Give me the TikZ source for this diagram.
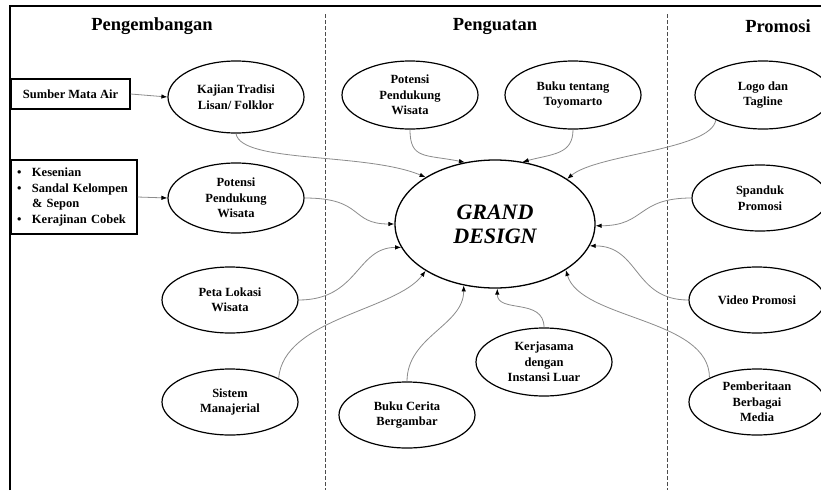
\documentclass[tikz,border=0pt]{standalone}
\usepackage{fontspec}
\setmainfont{Liberation Serif}
\usetikzlibrary{shapes.geometric,arrows.meta}
\begin{document}
\begin{tikzpicture}[x=1pt,y=-1pt,
  el/.style={draw=black,line width=1.2pt,ellipse,minimum width=136pt,minimum height=68pt,inner sep=0pt,align=center,
    font=\fontsize{12.5}{15.5}\selectfont\bfseries},
  bx/.style={draw=black,line width=1.3pt,rectangle,inner sep=0pt,font=\fontsize{12.5}{15.5}\selectfont\bfseries},
  head/.style={font=\fontsize{18.5}{22}\selectfont\bfseries},
  con/.style={draw=black!45,line width=0.8pt,-{Latex[color=black,length=6pt,width=4.5pt]}},
  divider/.style={draw=black!70,line width=0.9pt,dash pattern=on 4pt off 2pt}]
\clip (0,0) rectangle (821,490);
\fill[white] (0,0) rectangle (821,490);
% frame
\draw[line width=2pt] (10,490) -- (10,6) -- (830,6);
% dividers
\coordinate (d1t) at (325,14); \coordinate (d1b) at (325,490);
\coordinate (d2t) at (667,14); \coordinate (d2b) at (667,490);
\draw[divider] (d1t) -- (d1b);
\draw[divider] (d2t) -- (d2b);
% headings
\node[head] (h1) at (152,26) {Pengembangan};
\node[head] (h2) at (495,26) {Penguatan};
\node[head] (h3) at (778,26) {Promosi};
% left boxes
\node[bx,minimum width=119pt,minimum height=30pt] (sum) at (70.5,94) {Sumber Mata Air};
\node[bx,minimum width=126pt,minimum height=74pt,text width=114pt,align=left] (kes) at (74,197)
 {\makebox[15pt][l]{\textbullet}Kesenian\\
  \makebox[15pt][l]{\textbullet}Sandal Kelompen\\
  \makebox[15pt][l]{}\& Sepon\\
  \makebox[15pt][l]{\textbullet}Kerajinan Cobek};
% ellipses
\node[el,minimum height=72pt] (kaj) at (236,97) {Kajian Tradisi\\Lisan/ Folklor};
\node[el,minimum height=70pt] (pot1) at (236,198) {Potensi\\Pendukung\\Wisata};
\node[el,minimum height=66pt] (peta) at (230,300) {Peta Lokasi\\Wisata};
\node[el,minimum height=66pt] (sis) at (230,402) {Sistem\\Manajerial};
\node[el] (pot2) at (410,95) {Potensi\\Pendukung\\Wisata};
\node[el] (buku) at (573,95) {Buku tentang\\Toyomarto};
\node[el,minimum height=66pt] (cer) at (407,415) {Buku Cerita\\Bergambar};
\node[el,minimum height=68pt] (ker) at (544,362) {Kerjasama\\dengan\\Instansi Luar};
\node[el] (logo) at (763,95) {Logo dan\\Tagline};
\node[el,minimum height=66pt] (spa) at (760,198) {Spanduk\\Promosi};
\node[el,minimum height=66pt] (vid) at (757,300) {Video Promosi};
\node[el,minimum height=66pt] (pem) at (757,402) {Pemberitaan\\Berbagai\\Media};
\node[draw=black,line width=1.3pt,ellipse,minimum width=200pt,minimum height=128pt,inner sep=0pt,align=center,
  font=\fontsize{22}{24}\selectfont\bfseries\itshape] (gd) at (495,224) {GRAND\\DESIGN};
% connectors
\draw[con] (sum.east) -- (kaj.west);
\draw[con] (kes.east) -- (pot1.west);
\draw[con] (kaj.south) .. controls +(5,30) and +(-60,-25) .. (gd.146);
\draw[con] (pot1.east) .. controls +(60,0) and +(-45,0) .. (gd.180);
\draw[con] (peta.east) .. controls +(60,0) and +(-45,0) .. (gd.-166);
\draw[con] (sis.26) .. controls +(5,-60) and +(-30,40) .. (gd.-146);
\draw[con] (pot2.south) .. controls +(0,30) and +(-40,-8) .. (gd.116);
\draw[con] (buku.south) .. controls +(0,25) and +(30,-8) .. (gd.66);
\draw[con] (logo.-152) .. controls +(-5,30) and +(30,-25) .. (gd.32);
\draw[con] (spa.west) .. controls +(-55,0) and +(50,0) .. (gd.-1);
\draw[con] (vid.west) .. controls +(-55,0) and +(50,0) .. (gd.-13);
\draw[con] (pem.153) .. controls +(0,-60) and +(15,50) .. (gd.-33);
\draw[con] (ker.north) .. controls +(0,-30) and +(0,25) .. (gd.-88);
\draw[con] (cer.north) .. controls +(0,-45) and +(0,40) .. (gd.-117);
\end{tikzpicture}
\end{document}
